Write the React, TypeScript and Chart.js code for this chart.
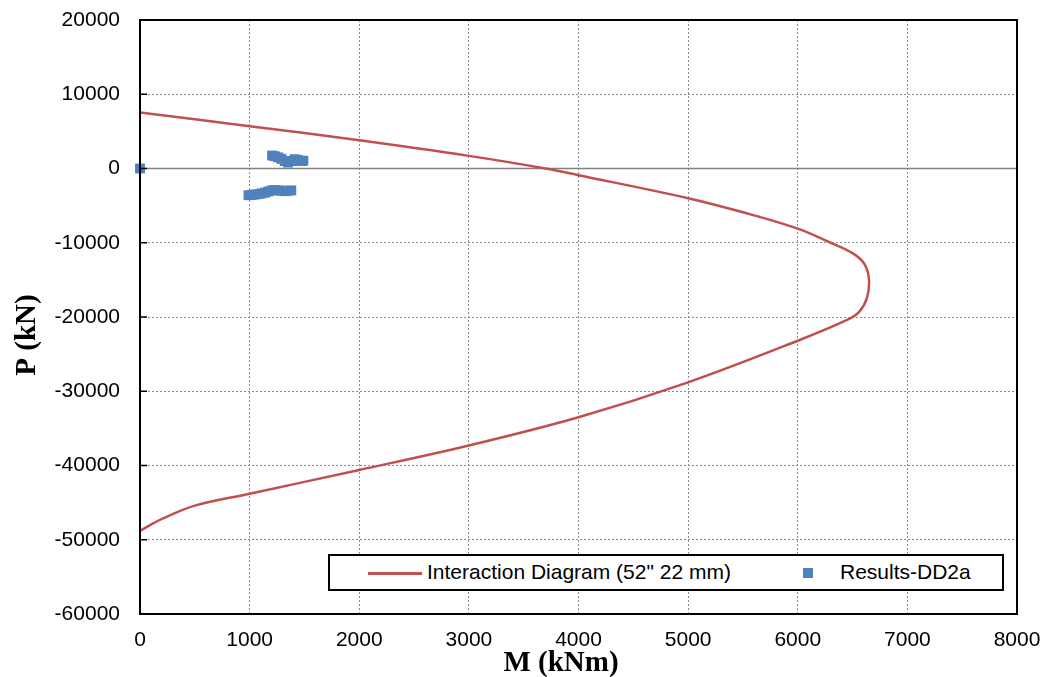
import React, { useEffect, useRef } from "react";
import { Chart, registerables } from "chart.js";

Chart.register(...registerables);

// Interaction diagram (M in kNm, P in kN)
const curveM = [0, 1000, 2000, 3000, 3700, 4000, 5000, 5500, 6000, 6300, 6500, 6610, 6650, 6630, 6560, 6450, 6000, 5000, 4000, 3000, 2000, 1000, 500, 200, 0];
const curveP = [7550, 5700, 3800, 1700, 0, -900, -4000, -5900, -8100, -10000, -11400, -12900, -15000, -17500, -19300, -20400, -23200, -28800, -33500, -37300, -40600, -43800, -45400, -47200, -48800];

// Results-DD2a (M in kNm, P in kN)
const resultsM = [0, 1205, 1230, 1260, 1290, 1320, 1350, 1380, 1410, 1440, 1470, 1490, 990, 1020, 1050, 1080, 1110, 1140, 1170, 1200, 1230, 1260, 1290, 1320, 1350, 1380];
const resultsP = [0, 1750, 1650, 1500, 1300, 1000, 800, 1000, 1250, 1150, 1000, 1050, -3600, -3550, -3500, -3450, -3350, -3250, -3100, -2950, -2900, -2950, -3000, -3050, -3000, -2950];

const xMin = 0, xMax = 8000, xStep = 1000;
const yMin = -60000, yMax = 20000, yStep = 10000;

const seriesNames = ["Interaction Diagram (52\" 22 mm)", "Results-DD2a"];
const xTitle = "M (kNm)";
const yTitle = "P (kN)";

const RED = "#C0504D";
const BLUE = "#4F81BD";
const TITLE_FONT = "bold 29px 'Liberation Serif', 'Times New Roman', serif";

const framePlugin = {
  id: "frame",
  beforeDatasetsDraw(chart: any) {
    const { ctx, chartArea, scales } = chart;
    const y0 = scales.y.getPixelForValue(0);
    ctx.save();
    ctx.strokeStyle = "#808080";
    ctx.lineWidth = 1.5;
    ctx.beginPath();
    ctx.moveTo(chartArea.left, y0);
    ctx.lineTo(chartArea.right, y0);
    ctx.stroke();
    ctx.restore();
  },
  afterDraw(chart: any) {
    const { ctx, chartArea, scales } = chart;
    ctx.save();
    ctx.strokeStyle = "#000";
    ctx.lineWidth = 2;
    ctx.strokeRect(chartArea.left, chartArea.top, chartArea.right - chartArea.left, chartArea.bottom - chartArea.top);
    ctx.lineWidth = 1.5;
    for (let v = yMin; v <= yMax; v += yStep) {
      const py = scales.y.getPixelForValue(v);
      ctx.beginPath();
      ctx.moveTo(chartArea.left, py);
      ctx.lineTo(chartArea.left + 7, py);
      ctx.stroke();
    }
    // axis titles
    ctx.fillStyle = "#000";
    ctx.font = TITLE_FONT;
    ctx.textAlign = "center";
    ctx.textBaseline = "alphabetic";
    ctx.fillText(xTitle, chartArea.left + 421, 671);
    ctx.translate(35, 335);
    ctx.rotate(-Math.PI / 2);
    ctx.fillText(yTitle, 0, 0);
    ctx.restore();
  },
};

export default function App() {
  const ref = useRef<HTMLCanvasElement>(null);
  useEffect(() => {
    const canvas = ref.current;
    if (!canvas) return;
    const tickFont = { family: "'Liberation Sans', Arial, sans-serif", size: 21 };
    const chart = new Chart(canvas, {
      type: "scatter",
      data: {
        datasets: [
          {
            label: seriesNames[0],
            data: curveM.map((m, i) => ({ x: m, y: curveP[i] })),
            showLine: true,
            borderColor: RED,
            backgroundColor: RED,
            borderWidth: 2.5,
            pointRadius: 0,
            tension: 0.35,
            order: 2,
          },
          {
            label: seriesNames[1],
            data: resultsM.map((m, i) => ({ x: m, y: resultsP[i] })),
            showLine: false,
            pointStyle: "rect",
            pointRadius: 7,
            borderWidth: 0,
            backgroundColor: BLUE,
            borderColor: BLUE,
            clip: false,
            order: 1,
          },
        ],
      },
      options: {
        animation: false,
        responsive: true,
        maintainAspectRatio: false,
        layout: { padding: { left: 0, top: 20, right: 29, bottom: 0 } },
        plugins: { legend: { display: false }, tooltip: { enabled: false } },
        scales: {
          x: {
            type: "linear",
            min: xMin,
            max: xMax,
            ticks: { stepSize: xStep, font: tickFont, color: "#000", padding: 14, maxRotation: 0, callback: (v: any) => String(v) },
            grid: { color: "#8c8c8c", lineWidth: 1, drawTicks: false },
            border: { display: false, dash: [2, 2] },
            title: { display: false, text: xTitle },
            afterFit: (s: any) => { s.height = 63; s.paddingLeft = 0; s.paddingRight = 0; },
          },
          y: {
            type: "linear",
            min: yMin,
            max: yMax,
            ticks: { stepSize: yStep, font: tickFont, color: "#000", padding: 20, callback: (v: any) => String(v) },
            grid: { color: "#8c8c8c", lineWidth: 1, drawTicks: false },
            border: { display: false, dash: [2, 2] },
            title: { display: false, text: yTitle },
            afterFit: (s: any) => { s.width = 140; s.paddingTop = 0; s.paddingBottom = 0; },
          },
        },
      },
      plugins: [framePlugin],
    });
    return () => chart.destroy();
  }, []);

  return (
    <div style={{ position: "absolute", left: 0, top: 0, width: 1046, height: 677, background: "#fff" }}>
      <canvas ref={ref} />
      <div
        style={{
          position: "absolute",
          left: 328,
          top: 554,
          width: 676,
          height: 37,
          boxSizing: "border-box",
          border: "2px solid #000",
          background: "#fff",
          fontFamily: "'Liberation Sans', Arial, sans-serif",
          fontSize: 21,
          color: "#000",
        }}
      >
        <div style={{ position: "absolute", left: 38, top: 16, width: 54, height: 3, background: RED }} />
        <div style={{ position: "absolute", left: 97, top: 4, lineHeight: "24px", whiteSpace: "nowrap" }}>{seriesNames[0]}</div>
        <div style={{ position: "absolute", left: 473, top: 12, width: 10, height: 10, background: BLUE }} />
        <div style={{ position: "absolute", left: 510, top: 4, lineHeight: "24px", whiteSpace: "nowrap" }}>{seriesNames[1]}</div>
      </div>
    </div>
  );
}
